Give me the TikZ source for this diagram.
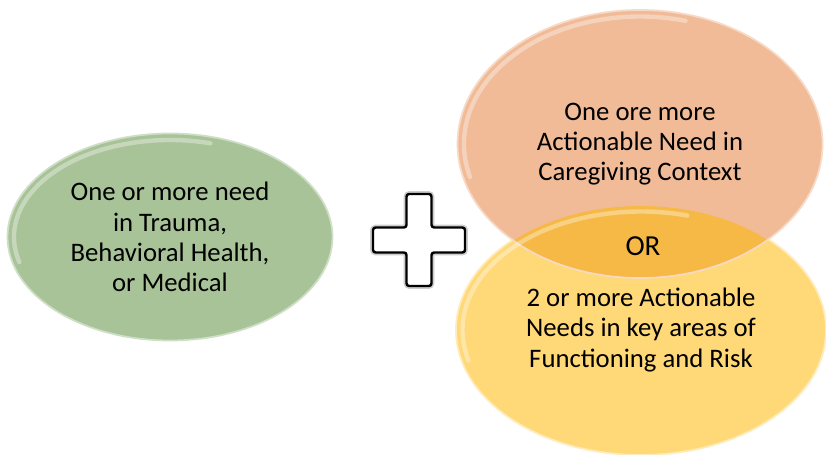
\documentclass[tikz,border=0pt]{standalone}
\usepackage{fontspec}
\setmainfont{Carlito}
\usetikzlibrary{calc,shapes.geometric}

\definecolor{sage}{RGB}{168,195,152}
\definecolor{peach}{RGB}{241,187,151}
\definecolor{butter}{RGB}{255,216,120}
\definecolor{amber}{RGB}{247,185,69}

\tikzset{
    bubble/.style={ellipse, inner sep=0pt, outer sep=0pt, align=center,
        font=\fontsize{15.2}{17.2}\selectfont, line width=1pt},
    rim/.style={white, opacity=.35, line width=2.5pt, line cap=round},
    crossline/.style={draw=black, fill=white, line width=1.4pt, rounded corners=1.5pt},
    crossshade/.style={draw=black, opacity=.2, line width=3.2pt, rounded corners=1.5pt},
}

\begin{document}
\begin{tikzpicture}
            \useasboundingbox (0,0) rectangle (16.52,9.1);

            \node (need) at (3.4,4.36) [bubble, fill=sage, draw=sage!55!white,
                minimum width=6.5cm, minimum height=4.14cm]
                {One or more need\\in Trauma,\\Behavioral Health,\\or Medical};
            \node (risk) at (12.82,2.5) [bubble, fill=butter, draw=butter!50!white,
                minimum width=7.4cm, minimum height=5cm] {};
            \node (care) at (12.8,6.22) [bubble, fill=peach, draw=peach!55!white,
                minimum width=7.3cm, minimum height=5.36cm] {};

            % where the two right ellipses meet
            \begin{scope}
                \clip (care.center) ellipse [x radius=3.63, y radius=2.66];
                \fill [amber] (risk.center) ellipse [x radius=3.68, y radius=2.48];
            \end{scope}

            \foreach \n/\rx/\ry in {need/3.25/2.07, risk/3.7/2.5, care/3.65/2.68}
                {
                    \draw [rim] ($(\n.center) + (195:{\rx-.13} and {\ry-.13})$)
                        arc [start angle=195, end angle=75, x radius={\rx-.13}, y radius={\ry-.13}];
                }

            \node at (care.center) [align=center, font=\fontsize{15.2}{17.2}\selectfont]
                {One ore more\\Actionable Need in\\Caregiving Context};
            \node at (risk.center) [align=center, font=\fontsize{15.2}{17.2}\selectfont]
                {2 or more Actionable\\Needs in key areas of\\Functioning and Risk};
            \node (or) at (12.86,4.18) [font=\fontsize{16.5}{18}\selectfont] {OR};

            % the plus sign between the groups
            \coordinate (plus) at (8.38,4.3);
            \foreach \s in {crossshade, crossline}
                {
                    \draw [\s] ($(plus) + (-.25,.92)$) -- ++(.5,0) -- ++(0,-.67) -- ++(.67,0)
                        -- ++(0,-.5) -- ++(-.67,0) -- ++(0,-.67) -- ++(-.5,0) -- ++(0,.67)
                        -- ++(-.67,0) -- ++(0,.5) -- ++(.67,0) -- cycle;
                }

        \end{tikzpicture}
\end{document}
